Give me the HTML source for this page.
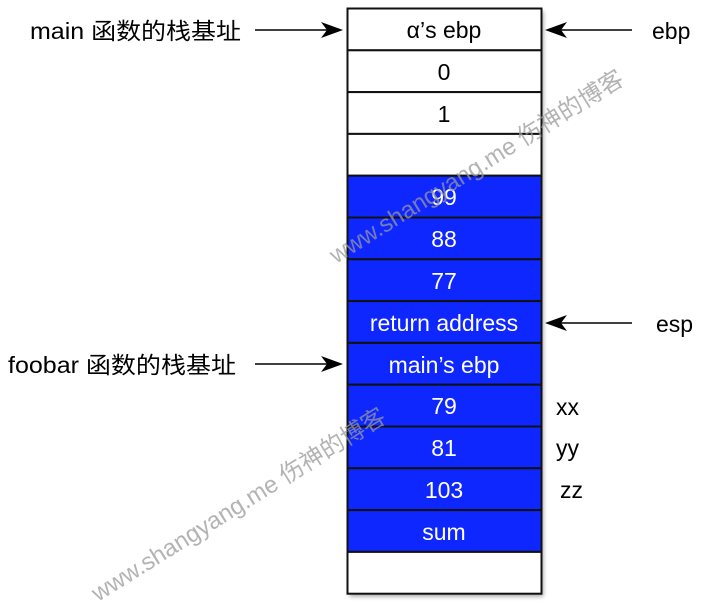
<!DOCTYPE html>
<html><head><meta charset="utf-8"><style>
html,body{margin:0;padding:0;background:#fff;}
svg{display:block;}
</style></head><body>
<svg width="706" height="606" viewBox="0 0 706 606" xmlns="http://www.w3.org/2000/svg" font-family="'Liberation Sans','Noto Sans CJK SC',sans-serif">
<defs>
<filter id="sh" x="-10%" y="-10%" width="130%" height="130%"><feDropShadow dx="2" dy="3" stdDeviation="2" flood-color="#000" flood-opacity="0.35"/></filter>
</defs>
<rect x="347.5" y="8.5" width="194" height="585" fill="#fff" filter="url(#sh)"/>
<g stroke="#111" stroke-width="2">
<rect x="347.5" y="8.5" width="194" height="41.8" fill="#fff"/>
<rect x="347.5" y="50.3" width="194" height="41.8" fill="#fff"/>
<rect x="347.5" y="92.1" width="194" height="41.8" fill="#fff"/>
<rect x="347.5" y="133.9" width="194" height="41.8" fill="#fff"/>
<rect x="347.5" y="175.7" width="194" height="41.8" fill="#0f27ff"/>
<rect x="347.5" y="217.5" width="194" height="41.8" fill="#0f27ff"/>
<rect x="347.5" y="259.3" width="194" height="41.8" fill="#0f27ff"/>
<rect x="347.5" y="301.1" width="194" height="41.8" fill="#0f27ff"/>
<rect x="347.5" y="342.9" width="194" height="41.8" fill="#0f27ff"/>
<rect x="347.5" y="384.7" width="194" height="41.8" fill="#0f27ff"/>
<rect x="347.5" y="426.5" width="194" height="41.8" fill="#0f27ff"/>
<rect x="347.5" y="468.3" width="194" height="41.8" fill="#0f27ff"/>
<rect x="347.5" y="510.1" width="194" height="41.8" fill="#0f27ff"/>
<rect x="347.5" y="551.9" width="194" height="41.8" fill="#fff"/>
</g>
<g font-size="23" text-anchor="middle">
<text x="444" y="38" fill="#000">α’s ebp</text>
<text x="444" y="80" fill="#000">0</text>
<text x="444" y="122" fill="#000">1</text>
<g fill="#fff">
<text x="444" y="205">99</text>
<text x="444" y="247">88</text>
<text x="444" y="289">77</text>
<text x="444" y="331">return address</text>
<text x="444" y="373">main’s ebp</text>
<text x="444" y="414">79</text>
<text x="444" y="456">81</text>
<text x="444" y="498">103</text>
<text x="444" y="540">sum</text>
</g>
</g>
<g stroke="#000" stroke-width="1.5">
<line x1="255" y1="30" x2="336" y2="30"/>
<line x1="255" y1="364" x2="336" y2="364"/>
<line x1="552" y1="30" x2="632" y2="30"/>
<line x1="552" y1="323" x2="632" y2="323"/>
</g>
<g fill="#000">
<path d="M343,30 L321,22 L327,30 L321,38 Z"/>
<path d="M343,364 L321,356 L327,364 L321,372 Z"/>
<path d="M545,30 L567,22 L561,30 L567,38 Z"/>
<path d="M545,323 L567,315 L561,323 L567,331 Z"/>
</g>
<g font-size="23" fill="#000">
<text x="30" y="39" textLength="211" lengthAdjust="spacingAndGlyphs">main 函数的栈基址</text>
<text x="8" y="373" textLength="228" lengthAdjust="spacingAndGlyphs">foobar 函数的栈基址</text>
<text x="652" y="39">ebp</text>
<text x="656" y="332">esp</text>
<text x="556" y="415">xx</text>
<text x="556" y="456">yy</text>
<text x="560" y="498">zz</text>
</g>
<g font-size="24" fill="#999" fill-opacity="0.75">
<text transform="translate(336,264) rotate(-32)">www.shangyang.me 伤神的博客</text>
<text transform="translate(98,602) rotate(-32)">www.shangyang.me 伤神的博客</text>
</g>
</svg>
</body></html>
